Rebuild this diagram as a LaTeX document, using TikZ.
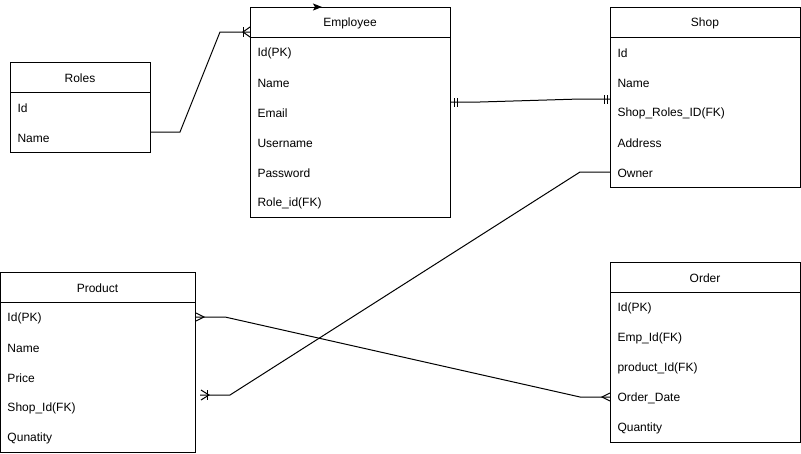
\documentclass[tikz,border=0pt]{standalone}
\usepackage{fontspec}
\setmainfont{Liberation Sans}
\usetikzlibrary{arrows.meta}
\begin{document}
\begin{tikzpicture}[x=1pt,y=-1pt,line width=1pt,
  tbl/.style={draw,anchor=north west,inner sep=0pt},
  ttl/.style={anchor=center,inner sep=0pt,yshift=-1pt,font=\fontsize{12}{14}\selectfont},
  fld/.style={anchor=west,inner sep=0pt,yshift=-1pt,font=\fontsize{12}{14}\selectfont},
  conn/.style={draw,line width=1pt},
  ermark/.style={draw,line width=1pt}]
\useasboundingbox (0,0) rectangle (801,453);
% Roles
\node[tbl,minimum width=140pt,minimum height=90pt] (roles) at (10,62) {};
\draw (10,92) -- (150,92);
\node[ttl] (rolesT) at (80,77) {Roles};
\node[fld] (rolesId) at (17,107) {Id};
\node[fld] (rolesName) at (17,137) {Name};
\coordinate (rolesNameE) at (150,132);
% Employee
\node[tbl,minimum width=200pt,minimum height=210pt] (emp) at (250,7) {};
\draw (250,37) -- (450,37);
\node[ttl] (empT) at (350,22) {Employee};
\node[fld] (empId) at (257,52) {Id(PK)};
\node[fld] (empName) at (257,82) {Name};
\node[fld] (empEmail) at (257,112) {Email};
\node[fld] (empUser) at (257,142) {Username};
\node[fld] (empPass) at (257,172) {Password};
\node[fld] (empRole) at (257,202) {Role\_id(FK)};
\coordinate (empL) at (250,32);
\coordinate (empR) at (450,102);
% Shop
\node[tbl,minimum width=190pt,minimum height=180pt] (shop) at (610,7) {};
\draw (610,37) -- (800,37);
\node[ttl] (shopT) at (705,22) {Shop};
\node[fld] (shopId) at (617,52) {Id};
\node[fld] (shopName) at (617,82) {Name};
\node[fld] (shopRole) at (617,112) {Shop\_Roles\_ID(FK)};
\node[fld] (shopAddr) at (617,142) {Address};
\node[fld] (shopOwner) at (617,172) {Owner};
\coordinate (shopL) at (610,99);
\coordinate (shopOwnerW) at (610,172);
% Product
\node[tbl,minimum width=195pt,minimum height=180pt] (prod) at (0,272) {};
\draw (0,302) -- (195,302);
\node[ttl] (prodT) at (97.5,287) {Product};
\node[fld] (prodId) at (7,317) {Id(PK)};
\node[fld] (prodName) at (7,347) {Name};
\node[fld] (prodPrice) at (7,377) {Price};
\node[fld] (prodShop) at (7,407) {Shop\_Id(FK)};
\node[fld] (prodQty) at (7,437) {Qunatity};
\coordinate (prodIdE) at (195,317);
\coordinate (prodShopE) at (200,395);
% Order
\node[tbl,minimum width=190pt,minimum height=180pt] (ord) at (610,262) {};
\draw (610,292) -- (800,292);
\node[ttl] (ordT) at (705,277) {Order};
\node[fld] (ordId) at (617,307) {Id(PK)};
\node[fld] (ordEmp) at (617,337) {Emp\_Id(FK)};
\node[fld] (ordProd) at (617,367) {product\_Id(FK)};
\node[fld] (ordDate) at (617,397) {Order\_Date};
\node[fld] (ordQty) at (617,427) {Quantity};
\coordinate (ordDateW) at (610,397);
% stub arrow on Employee top
\coordinate (stubA) at (250,7);
\coordinate (stubB) at (322,7);
\draw[conn,-{Stealth[length=9pt,width=7pt,inset=2pt]}] (stubA) -- (stubB);
% Roles -> Employee
\draw[conn] (rolesNameE) -- (180,132) -- (220,32) -- (empL);
\draw[ermark] (243,27) -- (243,37);
\draw[ermark] (250,27) -- (243,32) -- (250,37);
% Employee -- Shop
\draw[conn] (empR) -- (480,102) -- (580,99) -- (shopL);
\draw[ermark] (454,98) -- (454,107) (457,98) -- (457,107);
\draw[ermark] (604,95) -- (604,104) (607,95) -- (607,104);
% Shop Owner -> Product
\draw[conn] (shopOwnerW) -- (580,172) -- (230,395) -- (prodShopE);
\draw[ermark] (201,390) -- (209,395) -- (201,400);
\draw[ermark] (207,390) -- (207,400);
% Product Id -- Order Date
\draw[conn] (prodIdE) -- (225,317) -- (580,397) -- (ordDateW);
\draw[ermark] (196,313) -- (204,317) -- (196,321);
\draw[ermark] (610,393) -- (602,397) -- (610,401);
\end{tikzpicture}
\end{document}
